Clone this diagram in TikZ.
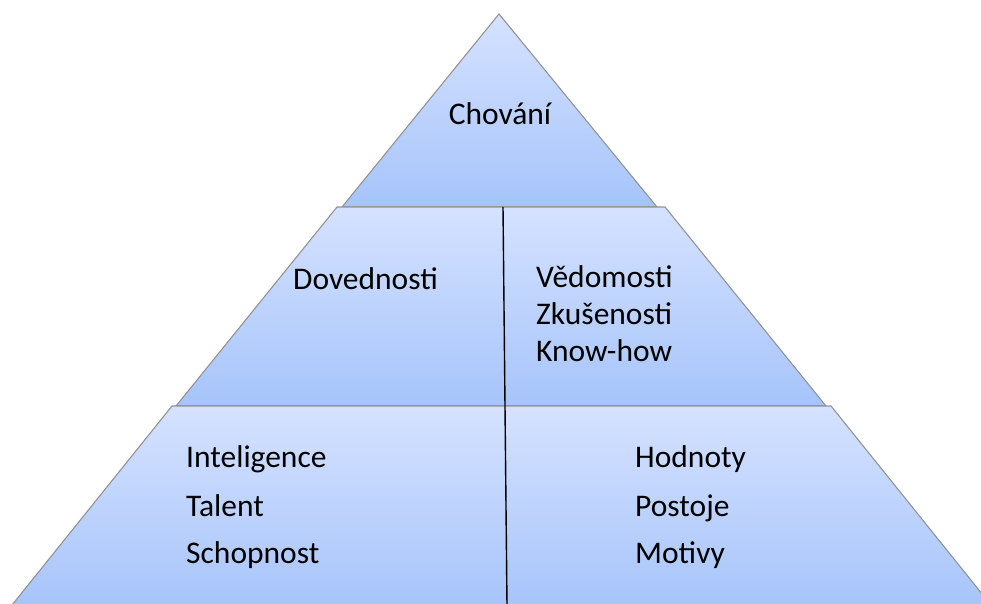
\documentclass[tikz,border=0pt]{standalone}
\usepackage{fontspec}
\setmainfont{Carlito}
\usepackage{tikz}

\tikzset{
  band/.style = {draw=gray!85, line width=1.1pt, top color=blue!12!white!95!cyan, bottom color={rgb,255:red,166;green,196;blue,250}},
  label/.style = {anchor=base west, inner sep=0pt, font=\fontsize{31.5}{36}\selectfont}
}

\begin{document}
\begin{tikzpicture}[x=1pt, y=-1pt]
  \useasboundingbox (0,0) rectangle (981,604);
  \begin{scope}
    \clip (0,0) rectangle (981,604);
    % three layers of the pyramid
    \shade[band] (499,14) -- (657,207) -- (342,207) -- cycle;
    \shade[band] (337,207) -- (665,207) -- (826,406) -- (176,406) -- cycle;
    \shade[band] (172,406) -- (831,406) -- (995,610) -- (8,610) -- cycle;
  \end{scope}
  \coordinate (split top) at (503,207);
  \coordinate (split bottom) at (507,606);
  \draw[line width=1.4pt] (split top) -- (split bottom);
  \node [label, anchor=base] (chovani) at (500,125) {Chování};
  \node [label] (dovednosti) at (293,289) {Dovednosti};
  \node [label] (vedomosti) at (536,287) {Vědomosti};
  \node [label] (zkusenosti) at (536,324) {Zkušenosti};
  \node [label] (knowhow) at (536,361) {Know-how};
  \node [label] (inteligence) at (186,467) {Inteligence};
  \node [label] (talent) at (186,516) {Talent};
  \node [label] (schopnost) at (186,563) {Schopnost};
  \node [label] (hodnoty) at (635,467) {Hodnoty};
  \node [label] (postoje) at (635,516) {Postoje};
  \node [label] (motivy) at (635,563) {Motivy};
\end{tikzpicture}
\end{document}
